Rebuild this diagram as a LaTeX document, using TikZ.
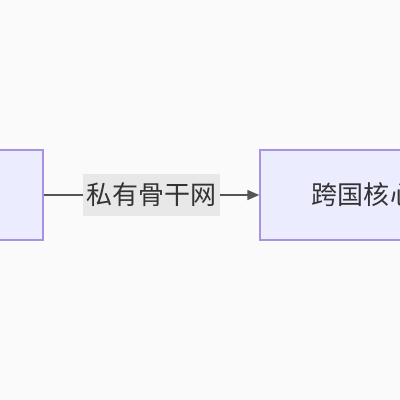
\documentclass[tikz,border=0pt]{standalone}
\usepackage{fontspec}
\newfontfamily\cjk{Noto Sans CJK SC}
\usetikzlibrary{positioning,arrows.meta}
\definecolor{PageBg}{RGB}{250,250,250}
\definecolor{BoxFill}{RGB}{236,236,255}
\definecolor{BoxLine}{RGB}{170,145,225}
\definecolor{EdgeLine}{RGB}{85,85,85}
\definecolor{LabelBg}{RGB}{232,232,232}

\begin{document}
\begin{tikzpicture}[
    x=0.02cm, y=-0.02cm,
    box/.style={rectangle, draw=BoxLine, fill=BoxFill, line width=0.03cm,
        minimum height=1.8cm, font=\cjk\fontsize{14.8}{16}\selectfont, text=black!80},
    link/.style={-{Triangle[length=0.24cm,width=0.2cm]}, EdgeLine, line width=0.03cm},
    tag/.style={fill=LabelBg, inner xsep=0.07cm, inner ysep=0pt, minimum height=0.84cm,
        font=\cjk\fontsize{14.8}{16}\selectfont, text=black!80}
]
\useasboundingbox (0,0) rectangle (400,400);
\clip (0,0) rectangle (400,400);
\fill[PageBg] (0,0) rectangle (400,400);
\node[box, minimum width=3.6cm] (office) at (-47,195) {};
\node[box, minimum width=4.16cm] (core) at (364,195) {跨国核心};
\draw[link] (office.east) -- (core.west) node[tag, midway] (bone) {私有骨干网};
\end{tikzpicture}
\end{document}
